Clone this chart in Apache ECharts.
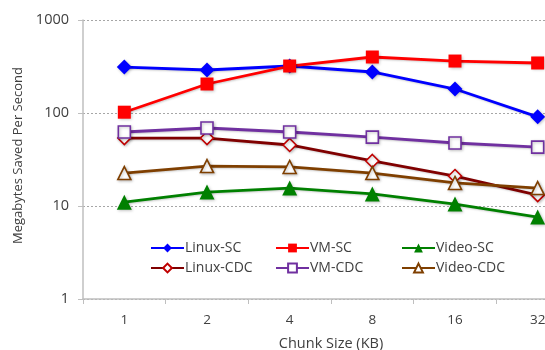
<!DOCTYPE html>
<html><head><meta charset="utf-8">
<script src="https://cdn.jsdelivr.net/npm/echarts@6/dist/echarts.min.js"></script>
<style>html,body{margin:0;padding:0;background:#fff}#c{width:545px;height:350px}</style>
</head><body><div id="c"></div>
<script>
var categories = ['1', '2', '4', '8', '16', '32'];
var linuxSC  = [312, 290, 320, 276, 181, 91];
var vmSC     = [102, 205, 320, 400, 362, 345];
var videoSC  = [11.0, 14.1, 15.6, 13.5, 10.5, 7.6];
var linuxCDC = [53.8, 53.8, 45.3, 30.5, 21, 13.1];
var vmCDC    = [62.5, 69, 62.5, 55, 47.6, 43];
var videoCDC = [22.6, 26.9, 26.3, 22.6, 17.7, 15.6];
var yTicks = [1, 10, 100, 1000];

var font = 'Open Sans';
var txt = '#404040';
function mk(name, data, color, symbol, size, hollow, lineColor) {
  return {
    name: name, type: 'line', data: data,
    symbol: symbol, symbolSize: size,
    itemStyle: { color: hollow ? '#fff' : color, borderColor: color, borderWidth: hollow ? 1.6 : 0,
      shadowColor: 'rgba(0,0,0,0.25)', shadowBlur: 3, shadowOffsetX: 1, shadowOffsetY: 1 },
    lineStyle: { color: lineColor || color, width: 2.8,
      shadowColor: 'rgba(0,0,0,0.2)', shadowBlur: 2, shadowOffsetX: 1, shadowOffsetY: 1 },
    emphasis: { disabled: true },
    animation: false
  };
}
var series = [
  mk('Linux-SC', linuxSC, '#0000FF', 'diamond', 15, false),
  mk('VM-SC', vmSC, '#FF0000', 'rect', 13, false),
  mk('Video-SC', videoSC, '#008000', 'triangle', 15, false),
  mk('Linux-CDC', linuxCDC, '#C00000', 'diamond', 13, true, '#800000'),
  mk('VM-CDC', vmCDC, '#7030A0', 'rect', 12, true),
  mk('Video-CDC', videoCDC, '#7F3F00', 'triangle', 13, true)
];
var legPos = [[145, 236], [270, 236], [396, 236], [145, 256], [270, 256], [396, 256]];
var names = ['Linux-SC', 'VM-SC', 'Video-SC', 'Linux-CDC', 'VM-CDC', 'Video-CDC'];
var legends = names.map(function (n, i) {
  return { data: [n], left: legPos[i][0], top: legPos[i][1], itemWidth: 33, itemHeight: 11,
    itemGap: 2, selectedMode: false,
    textStyle: { fontFamily: font, fontSize: 14, color: txt, padding: [0, 0, 0, -4] } };
});
var chart = echarts.init(document.getElementById('c'));
chart.setOption({
  animation: false,
  backgroundColor: '#fff',
  legend: legends,
  grid: { left: 83, top: 20, width: 496, height: 279, containLabel: false, outerBoundsMode: 'none' },
  xAxis: {
    type: 'category', data: categories, boundaryGap: true,
    name: 'Chunk Size (KB)', nameLocation: 'middle', nameGap: 37,
    nameTextStyle: { fontFamily: font, fontSize: 14.5, color: txt },
    axisLine: { lineStyle: { color: '#BFBFBF', width: 1.5 } },
    axisTick: { show: true, length: 5, lineStyle: { color: '#BFBFBF' } },
    axisLabel: { fontFamily: font, fontSize: 13.5, color: txt, margin: 14 },
    splitLine: { show: false }
  },
  yAxis: {
    type: 'log', logBase: 10, min: 1, max: 1000,
    name: 'Megabytes Saved Per Second', nameLocation: 'middle', nameGap: 57, nameRotate: 90,
    nameTextStyle: { fontFamily: font, fontSize: 13, color: txt, padding: [0, 0, 0, 8] },
    axisLine: { show: true, lineStyle: { color: '#BFBFBF', width: 1.5 } },
    axisTick: { show: true, inside: false, length: 5, lineStyle: { color: '#BFBFBF' } },
    axisLabel: { fontFamily: font, fontSize: 14.5, color: txt, margin: 14,
      formatter: function (v) { return yTicks.indexOf(Math.round(v)) >= 0 ? String(Math.round(v)) : ''; } },
    splitLine: { show: true, lineStyle: { color: '#A6A6A6', type: [2, 2], width: 1 } },
    minorTick: { show: false }
  },
  series: series
});
</script></body></html>
